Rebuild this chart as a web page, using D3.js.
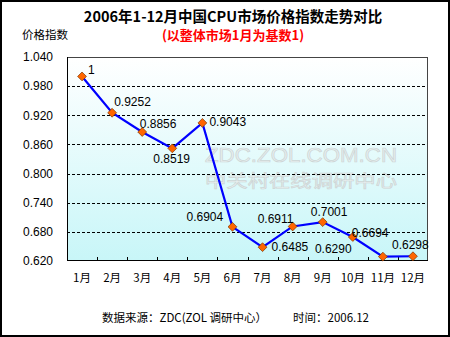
<!DOCTYPE html>
<html><head><meta charset="utf-8">
<script src="https://cdn.jsdelivr.net/npm/d3@7/dist/d3.min.js"></script>
<style>body{margin:0;background:#fff}svg{display:block}</style>
</head><body>
<script>
const months = ["1月","2月","3月","4月","5月","6月","7月","8月","9月","10月","11月","12月"];
const values = [1, 0.9252, 0.8856, 0.8519, 0.9043, 0.6904, 0.6485, 0.6911, 0.7001, 0.6694, 0.6290, 0.6298];
const valueLabels = ["1","0.9252","0.8856","0.8519","0.9043","0.6904","0.6485","0.6911","0.7001","0.6694","0.6290","0.6298"];
const yTicks = [0.62, 0.68, 0.74, 0.80, 0.86, 0.92, 0.98, 1.04];
// label placement offsets (px) relative to each point
const labelDx = [6, 2, -2.5, -19, 7, -46, 9, -35, -12, -1, -68, -21];
const labelDy = [-7, -11, -8, 10, -1, -10, 0, -8, -10, -4, -8, -11];

const W = 450, H = 337;
const m = {left: 67, right: 22, top: 57, bottom: 76};
const svg = d3.select("body").append("svg").attr("width", W).attr("height", H);

svg.append("rect").attr("x",1).attr("y",1).attr("width",W-2).attr("height",H-2)
  .attr("fill","#fff").attr("stroke","#000").attr("stroke-width",2);

const defs = svg.append("defs");
const grad = defs.append("linearGradient").attr("id","bg").attr("x1",0).attr("y1",0).attr("x2",0).attr("y2",1);
grad.append("stop").attr("offset","0%").attr("stop-color","#ffffff");
grad.append("stop").attr("offset","100%").attr("stop-color","#c8f6f8");

const x = d3.scaleBand().domain(months).range([m.left, W - m.right]);
const y = d3.scaleLinear().domain([0.62, 1.04]).range([H - m.bottom, m.top]);

svg.append("rect").attr("x", m.left).attr("y", m.top)
  .attr("width", W - m.right - m.left).attr("height", H - m.bottom - m.top)
  .attr("fill","url(#bg)");

// watermark
const wm = svg.append("g").attr("font-family","Liberation Sans, Arial, sans-serif")
  .attr("fill","#e8f0f0").attr("stroke","#cdd5d5").attr("stroke-width",0.7).attr("text-anchor","middle");
wm.append("text").attr("x",301).attr("y",162).attr("font-size",20).attr("textLength",192).attr("lengthAdjust","spacingAndGlyphs").text("ZDC.ZOL.COM.CN");
wm.append("text").attr("x",301).attr("y",187).attr("font-size",17.5).attr("font-family","Noto Sans CJK SC").attr("textLength",192).attr("lengthAdjust","spacingAndGlyphs").text("中关村在线调研中心");

// gridlines
svg.append("g").selectAll("line").data(yTicks.slice(1, -1)).join("line")
  .attr("x1", m.left).attr("x2", W - m.right)
  .attr("y1", d => Math.round(y(d)) + 0.5).attr("y2", d => Math.round(y(d)) + 0.5)
  .attr("stroke","#000").attr("stroke-dasharray","3,2").attr("stroke-width",1);

// frame
svg.append("rect").attr("x", m.left + 0.5).attr("y", m.top + 0.5)
  .attr("width", W - m.right - m.left - 1).attr("height", H - m.bottom - m.top - 1)
  .attr("fill","none").attr("stroke","#444").attr("stroke-width",1);
svg.append("line").attr("x1", m.left+0.5).attr("x2", m.left+0.5).attr("y1", m.top).attr("y2", H-m.bottom)
  .attr("stroke","#000");
svg.append("line").attr("x1", m.left).attr("x2", W-m.right).attr("y1", H-m.bottom-0.5).attr("y2", H-m.bottom-0.5)
  .attr("stroke","#000");

// y axis labels
const yAxis = d3.axisLeft(y).tickValues(yTicks).tickFormat(d3.format(".3f")).tickSize(0).tickPadding(14);
const ya = svg.append("g").attr("transform", `translate(${m.left},0)`).call(yAxis);
ya.select(".domain").remove();
ya.selectAll("text").attr("font-family","Liberation Sans, Arial, sans-serif").attr("font-size",12).attr("fill","#000");

// x axis ticks (inside) and labels
const xa = svg.append("g").attr("transform", `translate(0,${H - m.bottom})`)
  .call(d3.axisBottom(x).tickSize(0).tickPadding(13));
xa.select(".domain").remove();
xa.selectAll("text").attr("font-family","Noto Sans CJK SC, Liberation Sans, sans-serif").attr("font-size",11.5).attr("fill","#000");
svg.append("g").selectAll("line").data(months.slice(1)).join("line")
  .attr("x1", d => Math.round(x(d)) + 0.5).attr("x2", d => Math.round(x(d)) + 0.5)
  .attr("y1", H - m.bottom).attr("y2", H - m.bottom - 4).attr("stroke","#000");

// line
const cx = d => x(d) + x.bandwidth()/2;
svg.append("path").datum(values.map((v,i)=>[months[i], v]))
  .attr("d", d3.line().x(d => cx(d[0])).y(d => y(d[1])))
  .attr("fill","none").attr("stroke","#0000ff").attr("stroke-width",2.2);

// markers
svg.append("g").selectAll("path").data(values).join("path")
  .attr("transform", (d,i) => `translate(${cx(months[i])},${y(d)})`)
  .attr("d", d3.symbol(d3.symbolDiamond2, 50)())
  .attr("fill","#ff6600").attr("stroke","#7a3300").attr("stroke-width",0.7);

// data labels
svg.append("g").selectAll("text").data(values).join("text")
  .attr("x", (d,i) => cx(months[i]) + labelDx[i])
  .attr("y", (d,i) => y(d) + labelDy[i])
  .attr("dy","0.35em")
  .attr("font-family","Liberation Sans, Arial, sans-serif").attr("font-size",12).attr("fill","#000")
  .text((d,i) => valueLabels[i]);

// titles
svg.append("text").attr("x",233).attr("y",17).attr("dy","0.35em").attr("text-anchor","middle")
  .attr("font-family","Noto Sans CJK SC, Liberation Sans, sans-serif").attr("font-weight","bold").attr("font-size",14.5)
  .attr("fill","#000").text("2006年1-12月中国CPU市场价格指数走势对比");
svg.append("text").attr("x",233).attr("y",35).attr("dy","0.35em").attr("text-anchor","middle")
  .attr("font-family","Noto Sans CJK SC, Liberation Sans, sans-serif").attr("font-weight","bold").attr("font-size",13)
  .attr("fill","#ff0000").text("(以整体市场1月为基数1)");
svg.append("text").attr("x",22).attr("y",35).attr("dy","0.35em")
  .attr("font-family","Noto Sans CJK SC, sans-serif").attr("font-size",11.5)
  .attr("fill","#000").text("价格指数");

// footer
const ft = svg.append("g").attr("font-family","Noto Sans CJK SC, Liberation Sans, sans-serif").attr("font-size",11.5).attr("fill","#000");
ft.append("text").attr("x",102).attr("y",318).attr("dy","0.35em").text("数据来源：ZDC(ZOL 调研中心）");
ft.append("text").attr("x",293).attr("y",318).attr("dy","0.35em").text("时间：2006.12");
</script>
</body></html>
